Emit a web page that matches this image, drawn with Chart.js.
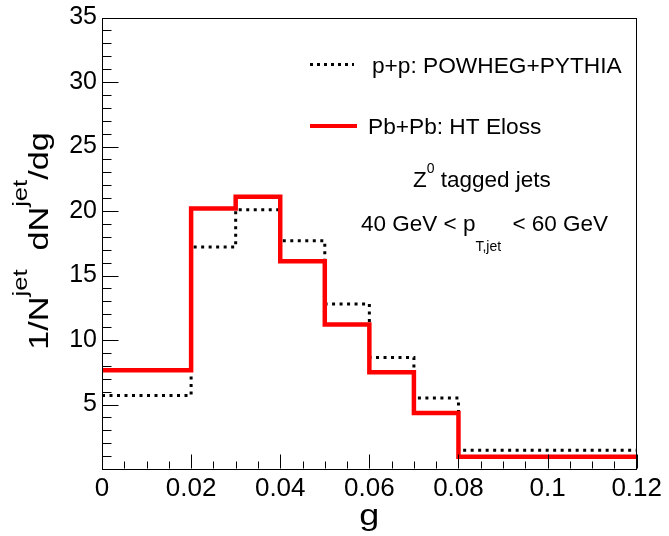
<!DOCTYPE html>
<html><head><meta charset="utf-8">
<script src="https://cdn.jsdelivr.net/npm/chart.js@4/dist/chart.umd.min.js"></script>
<style>html,body{margin:0;padding:0;background:#fff;overflow:hidden}#wrap{width:669px;height:536px;position:relative}</style>
</head><body><div id="wrap"><canvas id="c" width="669" height="536"></canvas></div>
<script>
// ---- data ----
const binEdges = [0, 0.02, 0.03, 0.04, 0.05, 0.06, 0.07, 0.08, 0.12];
const ppValues = [5.7, 17.2, 20.1, 17.7, 12.8, 8.65, 5.5, 1.45];
const pbpbValues = [7.65, 20.2, 21.1, 16.1, 11.2, 7.5, 4.35, 0.95];
const xTicks = [0, 0.02, 0.04, 0.06, 0.08, 0.1, 0.12];
const yTicks = [5, 10, 15, 20, 25, 30, 35];
const seriesLabels = ['p+p: POWHEG+PYTHIA', 'Pb+Pb: HT Eloss'];

const FONT = '"Liberation Sans", Arial, Helvetica, sans-serif';
Chart.defaults.font.family = FONT;

function toSteps(vals) {
  const pts = vals.map((v, i) => ({x: binEdges[i], y: v}));
  pts.push({x: binEdges[binEdges.length - 1], y: vals[vals.length - 1]});
  return pts;
}

function drawRuns(ctx, x, y, runs) {
  let cx = x;
  for (const r of runs) {
    ctx.font = r.size + 'px ' + FONT;
    ctx.fillText(r.t, cx + (r.dx || 0), y + (r.dy || 0));
    cx += ctx.measureText(r.t).width + (r.gap || 0);
  }
  return cx - x;
}
function runsWidth(ctx, runs) {
  let w = 0;
  for (const r of runs) { ctx.font = r.size + 'px ' + FONT; w += ctx.measureText(r.t).width + (r.gap || 0); }
  return w;
}

const decor = {
  id: 'decor',
  afterDraw(chart) {
    const ctx = chart.ctx;
    const a = chart.chartArea;
    const xs = chart.scales.x, ys = chart.scales.y;
    ctx.save();
    ctx.strokeStyle = '#000';
    ctx.lineWidth = 1;
    // frame
    ctx.strokeRect(Math.round(a.left) + 0.5, Math.round(a.top) + 0.5, Math.round(a.right - a.left) - 1, Math.round(a.bottom - a.top) - 1);
    // inward ticks
    ctx.beginPath();
    const bottom = Math.round(a.bottom) - 0.5;
    for (let k = 0; k <= 24; k++) {
      const v = k * 0.005;
      const px = Math.round(xs.getPixelForValue(v)) + 0.5;
      const major = (k % 4 === 0);
      ctx.moveTo(px, bottom); ctx.lineTo(px, bottom - (major ? 14 : 7));
    }
    const left = Math.round(a.left) + 0.5;
    for (let k = 0; k <= 35; k++) {
      const py = Math.round(ys.getPixelForValue(k)) + 0.5;
      const major = (k % 5 === 0);
      ctx.moveTo(left, py); ctx.lineTo(left + (major ? 16 : 9), py);
    }
    ctx.stroke();

    ctx.fillStyle = '#000';
    ctx.textBaseline = 'alphabetic';
    ctx.textAlign = 'left';
    // legend
    ctx.save();
    ctx.strokeStyle = '#000';
    ctx.lineWidth = 3;
    ctx.setLineDash([3, 4]);
    ctx.beginPath(); ctx.moveTo(310, 64.5); ctx.lineTo(354, 64.5); ctx.stroke();
    ctx.setLineDash([]);
    ctx.strokeStyle = '#ff0000';
    ctx.lineWidth = 4;
    ctx.beginPath(); ctx.moveTo(310, 126); ctx.lineTo(357, 126); ctx.stroke();
    ctx.restore();
    ctx.font = '22.7px ' + FONT;
    ctx.fillText(seriesLabels[0], 372, 73);
    ctx.fillText(seriesLabels[1], 368, 134);
    // annotations
    drawRuns(ctx, 413, 187, [{t: 'Z', size: 22.5}, {t: '0', size: 14, dy: -14}, {t: ' tagged jets', size: 22.5}]);
    drawRuns(ctx, 361, 231, [{t: '40 GeV < p', size: 22.5}, {t: 'T,jet', size: 14, dy: 20, gap: 5}, {t: ' < 60 GeV', size: 22.5}]);

    // y title (rotated, stretched)
    const F = 28, FS = 21;
    const yRuns = [
      {t: '1/N', size: F}, {t: 'jet', size: FS, dy: -21}, {t: '  dN', size: F},
      {t: 'jet', size: FS, dy: -21}, {t: '/dg', size: F}
    ];
    ctx.save();
    ctx.translate(48, 241);
    ctx.rotate(-Math.PI / 2);
    ctx.scale(1.22, 1);
    const w = runsWidth(ctx, yRuns);
    drawRuns(ctx, -w / 2, 0, yRuns);
    ctx.restore();
    // x title
    ctx.save();
    ctx.translate((a.left + a.right) / 2, 525);
    ctx.scale(1.2, 1);
    ctx.font = '30px ' + FONT;
    ctx.textAlign = 'center';
    ctx.fillText('g', 0, 0);
    ctx.restore();
    ctx.restore();
  }
};

new Chart(document.getElementById('c'), {
  type: 'line',
  data: {
    datasets: [
      {label: seriesLabels[1], data: toSteps(pbpbValues), borderColor: '#ff0000', borderWidth: 4.5,
       stepped: true, pointRadius: 0, fill: false, order: 0, borderCapStyle: 'butt', borderJoinStyle: 'miter'},
      {label: seriesLabels[0], data: toSteps(ppValues), borderColor: '#000000', borderWidth: 3,
       borderDash: [3, 4.5], stepped: true, pointRadius: 0, fill: false, order: 1, borderCapStyle: 'butt'}
    ]
  },
  options: {
    responsive: false,
    animation: false,
    layout: {padding: {top: 14, right: 27, bottom: 0, left: 0}},
    plugins: {legend: {display: false}, tooltip: {enabled: false}},
    scales: {
      x: {
        type: 'linear', min: 0, max: 0.12,
        grid: {display: false, drawTicks: false},
        border: {display: false},
        afterBuildTicks: s => { s.ticks = xTicks.map(v => ({value: v})); },
        afterFit: s => { s.height = 67; },
        ticks: {color: '#000', font: {size: 26, lineHeight: 1}, padding: 7, maxRotation: 0,
                callback: v => String(+Number(v).toFixed(3))}
      },
      y: {
        type: 'linear', min: 0, max: 35,
        grid: {display: false, drawTicks: false},
        border: {display: false},
        afterBuildTicks: s => { s.ticks = yTicks.map(v => ({value: v})); },
        afterFit: s => { s.width = 102; },
        ticks: {color: '#000', font: {size: 25, lineHeight: 1}, padding: 5,
                callback: v => String(v)}
      }
    }
  },
  plugins: [decor]
});
</script>
</body></html>
